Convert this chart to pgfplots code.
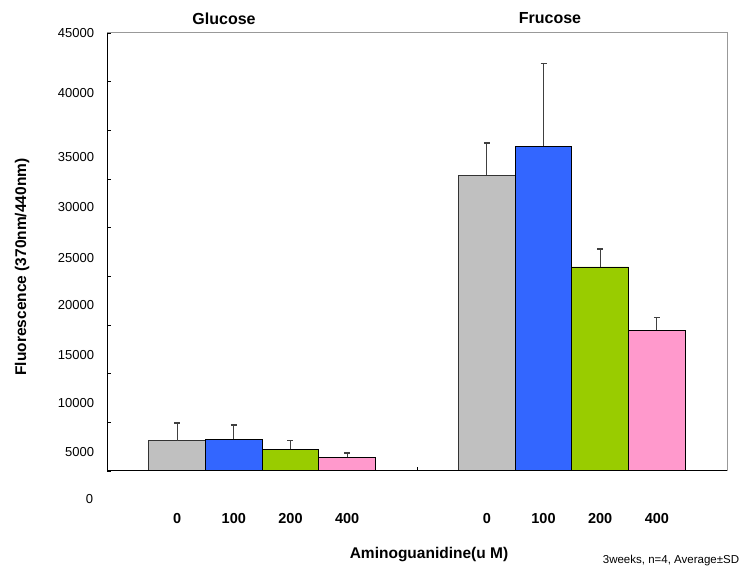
\documentclass[border=0pt]{standalone}
\usepackage{pgfplots}
\pgfplotsset{compat=1.18}
\usepackage{fontspec}
\setmainfont{Liberation Sans}
\definecolor{cgray}{HTML}{C0C0C0}
\definecolor{cblue}{HTML}{3366FF}
\definecolor{cgreen}{HTML}{99CC00}
\definecolor{cpink}{HTML}{FF99CC}
\definecolor{errc}{HTML}{404040}
\pgfplotsset{myerr/.style={error bars/y dir=plus, error bars/y explicit,
    error bars/error bar style={line width=0.9pt, color=errc},
    error bars/error mark options={rotate=90, mark size=3pt, line width=1.5pt, color=errc}}}
\begin{document}
\begin{tikzpicture}
\path[use as bounding box] (0,0) rectangle (739pt,570pt);
\begin{axis}[
  at={(107.3pt,99.3pt)}, anchor=south west,
  scale only axis, width=619.4pt, height=438pt,
  xmin=-0.5, xmax=1.5, ymin=0, ymax=45000,
  enlargelimits=false, clip=false,
  axis line style={draw=gray!80},
  ybar=0pt, bar width=0.183,
  tick align=inside, ytick pos=left, xtick pos=bottom,
  major tick length=4pt,
  ytick={0,5000,...,45000},
  yticklabels={,,,,,,,,,},
  scaled y ticks=false, scaled x ticks=false,
  extra y ticks={45000,38779,32213,27084,21893,16999,11870,6915,1888},
  extra y tick labels={45000,40000,35000,30000,25000,20000,15000,10000,5000},
  extra y tick style={major tick length=0pt, yticklabel style={anchor=east, xshift=-9.7pt, font=\fontsize{13}{15}\selectfont}},
  xtick={-0.2745,-0.0915,0.0915,0.2745,0.7255,0.9085,1.0915,1.2745},
  xticklabels={0,100,200,400,0,100,200,400},
  xticklabel style={anchor=center, yshift=-48.3pt, font=\bfseries\fontsize{14.5}{16}\selectfont},
  x tick style={draw=none},
  y tick style={black},
]
\addplot[fill=cgray, draw=black!80, line width=0.8pt, bar shift=-0.2745, myerr] coordinates {(0,3080) +- (0,1845) (1,30370) +- (0,3280)};
\addplot[fill=cblue, draw=black, line width=0.8pt, bar shift=-0.0915, myerr] coordinates {(0,3250) +- (0,1440) (1,33340) +- (0,8520)};
\addplot[fill=cgreen, draw=black, line width=0.8pt, bar shift=0.0915, myerr] coordinates {(0,2195) +- (0,885) (1,20930) +- (0,1845)};
\addplot[fill=cpink, draw=black, line width=0.8pt, bar shift=0.2745, myerr] coordinates {(0,1375) +- (0,440) (1,14435) +- (0,1300)};
\draw[black, line width=0.8pt] (rel axis cs:0,1) -- (rel axis cs:0,0) -- (rel axis cs:1,0);
\draw[black, line width=0.8pt] (axis cs:0.5,0) -- (axis cs:0.5,420);
\end{axis}
\node[anchor=east, inner sep=0pt, font=\fontsize{13}{15}\selectfont] at (93.3pt,70.7pt) {0};
\node[font=\bfseries\fontsize{16}{18}\selectfont] at (224pt,551pt) {Glucose};
\node[font=\bfseries\fontsize{16}{18}\selectfont] at (550pt,552pt) {Frucose};
\node[rotate=90, font=\bfseries\fontsize{15.5}{17}\selectfont] at (22pt,303pt) {Fluorescence (370nm/440nm)};
\node[font=\bfseries\fontsize{15.5}{17}\selectfont] at (429pt,15pt) {Aminoguanidine(u M)};
\node[anchor=west, inner sep=0pt, font=\fontsize{11.5}{13}\selectfont] at (602.7pt,9pt) {3weeks, n=4, Average±SD};
\end{tikzpicture}
\end{document}
